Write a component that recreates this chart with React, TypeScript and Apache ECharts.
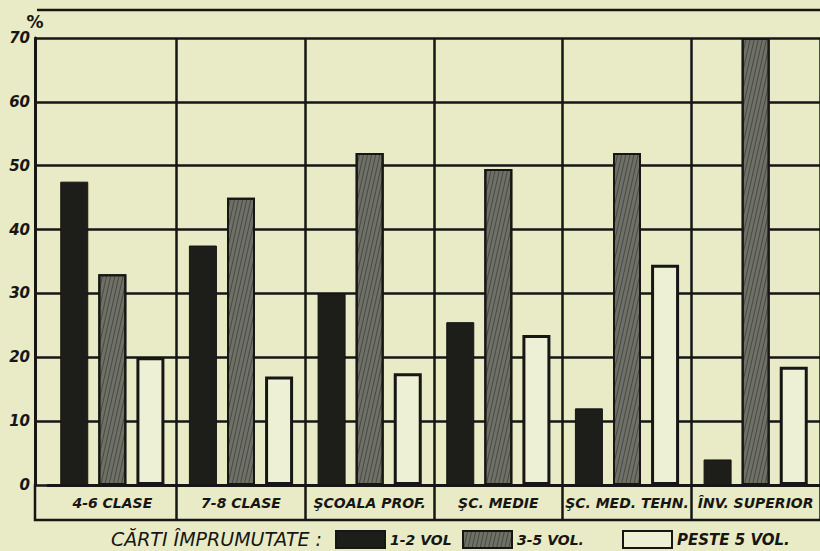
import React, { useEffect, useRef } from "react";
import * as echarts from "echarts";

const categories = ["4-6 CLASE", "7-8 CLASE", "ŞCOALA PROF.", "ŞC. MEDIE", "ŞC. MED. TEHN.", "ÎNV. SUPERIOR"];
const seriesNames = ["1-2 VOL", "3-5 VOL.", "PESTE 5 VOL."];
const vol1to2 = [47.5, 37.5, 30, 25.5, 12, 4];
const vol3to5 = [33, 45, 52, 49.5, 52, 70];
const peste5 = [20, 17, 17.5, 23.5, 34.5, 18.5];
const yMin = 0;
const yMax = 70;
const yStep = 10;
const legendPrefix = "CĂRTI ÎMPRUMUTATE :";

const BG = "#e8ebc5";
const INK = "#161614";
const FONT = "'DejaVu Sans', sans-serif";

export default function App() {
  const ref = useRef<HTMLDivElement>(null);
  useEffect(() => {
    if (!ref.current) return;
    const chart = echarts.init(ref.current, null, { renderer: "svg" });
    const legendText = {
      color: INK,
      fontFamily: FONT,
      fontStyle: "italic",
      fontWeight: "bold",
      fontSize: 14,
    };
    const legendBase = {
      top: 525,
      itemWidth: 49,
      itemHeight: 17,
      itemGap: 8,
      icon: "rect",
      textStyle: legendText,
    };
    chart.setOption({
      animation: false,
      backgroundColor: BG,
      grid: { left: 48, right: -3, top: 38, bottom: 66, containLabel: false },
      xAxis: {
        type: "category",
        data: categories,
        axisLine: { show: true, lineStyle: { color: INK, width: 3 } },
        axisTick: {
          show: true,
          length: 35,
          interval: (i: number) => i !== 0,
          lineStyle: { color: INK, width: 2.5 },
        },
        axisLabel: {
          color: INK,
          fontFamily: FONT,
          fontStyle: "italic",
          fontWeight: "bold",
          fontSize: 14,
          margin: 11,
          interval: 0,
        },
        splitLine: {
          show: true,
          interval: (i: number) => i !== 0,
          lineStyle: { color: INK, width: 2.5 },
        },
      },
      yAxis: {
        type: "value",
        min: yMin,
        max: yMax,
        interval: yStep,
        offset: 13,
        name: "%",
        nameLocation: "end",
        nameGap: 8,
        nameTextStyle: { color: INK, fontFamily: FONT, fontWeight: "bold", fontSize: 17, align: "center" },
        axisLine: { show: true, lineStyle: { color: INK, width: 3 } },
        axisTick: { show: true, inside: true, length: 13, lineStyle: { color: INK, width: 2.5 } },
        axisLabel: {
          color: INK,
          fontFamily: FONT,
          fontStyle: "italic",
          fontWeight: "bold",
          fontSize: 15,
          margin: 5,
        },
        splitLine: { show: true, lineStyle: { color: INK, width: 2.5 } },
      },
      legend: [
        { ...legendBase, data: [seriesNames[0]], left: 330 },
        { ...legendBase, data: [seriesNames[1]], left: 457 },
        { ...legendBase, data: [seriesNames[2]], left: 617, textStyle: { ...legendText, fontSize: 15 } },
      ],
      graphic: [
        {
          type: "line",
          shape: { x1: 37, y1: 10, x2: 820, y2: 10 },
          style: { stroke: INK, lineWidth: 2.5 },
        },
        {
          type: "polyline",
          shape: { points: [[35, 484], [35, 520], [820, 520]] },
          style: { stroke: INK, lineWidth: 2.5, fill: null },
        },
        {
          type: "text",
          x: 322,
          y: 539,
          style: {
            text: legendPrefix,
            fill: INK,
            font: `italic 19px ${FONT}`,
            textAlign: "right",
            textVerticalAlign: "middle",
          },
        },
      ],
      series: [
        {
          name: seriesNames[0],
          type: "bar",
          data: vol1to2,
          barWidth: 28,
          barGap: "36%",
          itemStyle: { color: "#1d1d1a", borderColor: INK, borderWidth: 1 },
        },
        {
          name: seriesNames[1],
          type: "bar",
          data: vol3to5,
          barWidth: 28,
          barGap: "36%",
          itemStyle: {
            color: "#6f7166",
            borderColor: INK,
            borderWidth: 2,
            decal: {
              symbol: "rect",
              dashArrayX: [1, 0],
              dashArrayY: [1, 3],
              rotation: -1.35,
              color: "rgba(25,25,22,0.45)",
            },
          },
        },
        {
          name: seriesNames[2],
          type: "bar",
          data: peste5,
          barWidth: 28,
          barGap: "36%",
          itemStyle: { color: "#eef0d5", borderColor: INK, borderWidth: 3 },
        },
      ],
    });
    return () => chart.dispose();
  }, []);
  return <div ref={ref} style={{ position: "fixed", left: 0, top: 0, width: 820, height: 551 }} />;
}
